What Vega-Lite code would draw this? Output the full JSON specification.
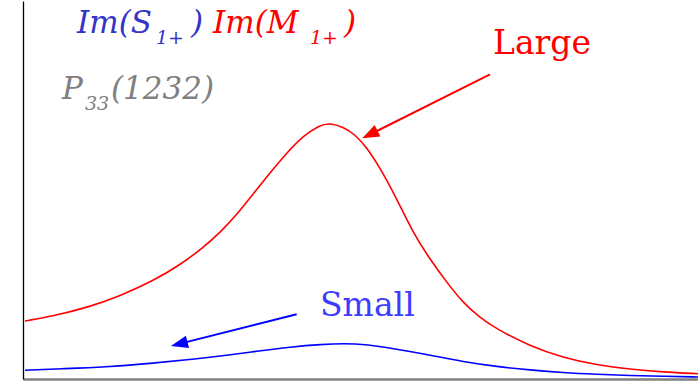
{
  "$schema": "https://vega.github.io/schema/vega-lite/v6.json",
  "width": 675,
  "height": 378,
  "autosize": "none",
  "padding": {"left": 23, "top": 1, "right": 0, "bottom": 3},
  "config": {"view": {"stroke": null}, "background": "white"},
  "datasets": {
    "curves": [
      {"x": 2, "y": 59, "series": "M"}, {"x": 30, "y": 64, "series": "M"}, {"x": 64, "y": 72.3, "series": "M"},
      {"x": 97, "y": 84, "series": "M"}, {"x": 130, "y": 99, "series": "M"}, {"x": 157, "y": 115, "series": "M"},
      {"x": 180, "y": 132.3, "series": "M"}, {"x": 197, "y": 147.3, "series": "M"}, {"x": 214, "y": 165.7, "series": "M"},
      {"x": 230, "y": 185.7, "series": "M"}, {"x": 247, "y": 207.3, "series": "M"}, {"x": 264, "y": 227.3, "series": "M"},
      {"x": 280, "y": 244, "series": "M"}, {"x": 297, "y": 255, "series": "M"}, {"x": 307, "y": 257, "series": "M"},
      {"x": 320, "y": 253, "series": "M"}, {"x": 332, "y": 245.5, "series": "M"}, {"x": 343, "y": 233.5, "series": "M"},
      {"x": 357, "y": 212.3, "series": "M"}, {"x": 374, "y": 180.7, "series": "M"}, {"x": 390, "y": 147.3, "series": "M"},
      {"x": 407, "y": 120.7, "series": "M"}, {"x": 424, "y": 97.3, "series": "M"}, {"x": 440, "y": 77.3, "series": "M"},
      {"x": 457, "y": 62.3, "series": "M"}, {"x": 474, "y": 50.7, "series": "M"}, {"x": 507, "y": 34, "series": "M"},
      {"x": 540, "y": 22.3, "series": "M"}, {"x": 574, "y": 15, "series": "M"}, {"x": 607, "y": 10.7, "series": "M"},
      {"x": 640, "y": 8, "series": "M"}, {"x": 675, "y": 6.3, "series": "M"},
      {"x": 2, "y": 9.7, "series": "S"}, {"x": 37, "y": 11.2, "series": "S"}, {"x": 83, "y": 13, "series": "S"},
      {"x": 127, "y": 16.5, "series": "S"}, {"x": 170, "y": 20.7, "series": "S"}, {"x": 207, "y": 25, "series": "S"},
      {"x": 235, "y": 29, "series": "S"}, {"x": 267, "y": 33, "series": "S"}, {"x": 299, "y": 35.7, "series": "S"},
      {"x": 321, "y": 36.5, "series": "S"}, {"x": 342, "y": 35.7, "series": "S"}, {"x": 365, "y": 32.3, "series": "S"},
      {"x": 387, "y": 28.5, "series": "S"}, {"x": 408, "y": 24.7, "series": "S"}, {"x": 440, "y": 18.3, "series": "S"},
      {"x": 474, "y": 13.3, "series": "S"}, {"x": 507, "y": 10, "series": "S"}, {"x": 540, "y": 7.3, "series": "S"},
      {"x": 574, "y": 5.7, "series": "S"}, {"x": 607, "y": 4.5, "series": "S"}, {"x": 640, "y": 3.7, "series": "S"},
      {"x": 675, "y": 3, "series": "S"}
    ],
    "arrows": [
      {"series": "M", "x": 467, "y": 305.7, "x2": 346.9, "y2": 245.5},
      {"series": "S", "x": 273.7, "y": 65.7, "x2": 156.2, "y2": 36.1}
    ],
    "heads": [
      {"series": "M", "x": 346.9, "y": 245.5},
      {"series": "S", "x": 156.2, "y": 36.1}
    ],
    "labels": [
      {"x": 54, "y": 347, "text": "Im(S", "series": "Slab", "role": "main"},
      {"x": 133, "y": 336, "text": "1+", "series": "Slab", "role": "sub"},
      {"x": 168, "y": 347, "text": ")", "series": "Slab", "role": "main"},
      {"x": 190, "y": 347, "text": "Im(M", "series": "M", "role": "main"},
      {"x": 287, "y": 336, "text": "1+", "series": "M", "role": "sub"},
      {"x": 321, "y": 347, "text": ")", "series": "M", "role": "main"},
      {"x": 39, "y": 281, "text": "P", "series": "P", "role": "main"},
      {"x": 62, "y": 270, "text": "33", "series": "P", "role": "sub"},
      {"x": 88, "y": 281, "text": "(1232)", "series": "P", "role": "main"},
      {"x": 470, "y": 326, "text": "Large", "series": "M", "role": "note"},
      {"x": 297, "y": 64, "text": "Small", "series": "small", "role": "note"}
    ]
  },
  "encoding": {
    "x": {"field": "x", "type": "quantitative", "scale": {"domain": [0, 675], "nice": false, "zero": false},
      "axis": {"title": null, "labels": false, "ticks": false, "grid": false, "domainColor": "#808080", "domainWidth": 2.5}},
    "y": {"field": "y", "type": "quantitative", "scale": {"domain": [1, 379], "nice": false, "zero": false},
      "axis": {"title": null, "labels": false, "ticks": false, "grid": false, "domainColor": "#000000", "domainWidth": 1.3}},
    "color": {"field": "series", "type": "nominal", "legend": null,
      "scale": {"domain": ["M", "S", "Slab", "P", "small"], "range": ["#ff0000", "#0000ff", "#3434c8", "#808080", "#3d3dff"]}}
  },
  "layer": [
    {"data": {"name": "curves"}, "mark": {"type": "line", "strokeWidth": 1.6, "interpolate": "basis", "clip": true},
      "encoding": {"detail": {"field": "series"}}},
    {"data": {"name": "arrows"}, "mark": {"type": "rule", "strokeWidth": 2},
      "encoding": {"x2": {"field": "x2"}, "y2": {"field": "y2"}}},
    {"data": {"name": "heads"}, "transform": [{"filter": "datum.series === 'M'"}],
      "mark": {"type": "point", "shape": "M0,-1L-0.75,1L0.75,1Z", "filled": true, "opacity": 1, "size": 289, "angle": 243.4}},
    {"data": {"name": "heads"}, "transform": [{"filter": "datum.series === 'S'"}],
      "mark": {"type": "point", "shape": "M0,-1L-0.75,1L0.75,1Z", "filled": true, "opacity": 1, "size": 289, "angle": 255.85}},
    {"data": {"name": "labels"}, "transform": [{"filter": "datum.role === 'main'"}],
      "mark": {"type": "text", "font": "DejaVu Serif", "fontStyle": "italic", "fontSize": 31, "align": "left", "baseline": "alphabetic"},
      "encoding": {"text": {"field": "text"}}},
    {"data": {"name": "labels"}, "transform": [{"filter": "datum.role === 'sub'"}],
      "mark": {"type": "text", "font": "DejaVu Serif", "fontStyle": "italic", "fontSize": 19, "align": "left", "baseline": "alphabetic"},
      "encoding": {"text": {"field": "text"}}},
    {"data": {"name": "labels"}, "transform": [{"filter": "datum.role === 'note'"}],
      "mark": {"type": "text", "font": "DejaVu Serif", "fontSize": 33, "align": "left", "baseline": "alphabetic"},
      "encoding": {"text": {"field": "text"}}}
  ]
}
